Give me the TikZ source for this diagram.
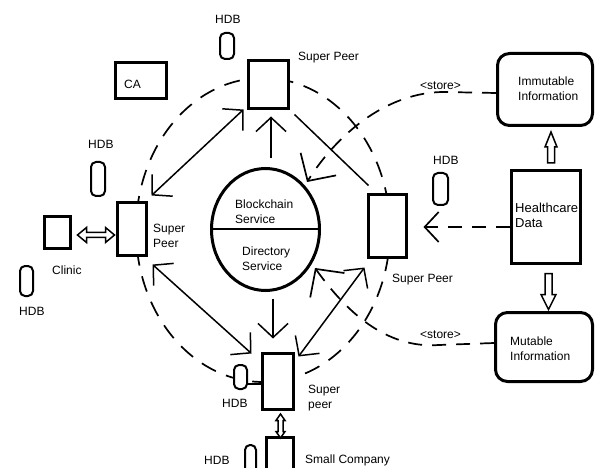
\documentclass[tikz,border=0pt]{standalone}
\usepackage{fontspec}
\setmainfont{Liberation Sans}
\usetikzlibrary{arrows.meta,calc,shapes.geometric}
\tikzset{
  peer/.style={draw, line width=3pt, fill=white, inner sep=0pt},
  hdbbox/.style={draw, line width=2pt, fill=white, rounded corners=5pt, inner sep=0pt},
  infobox/.style={draw, line width=3pt, fill=white, rounded corners=12pt, inner sep=0pt},
  lbl/.style={anchor=west, inner sep=0pt, align=left, font=\fontsize{12}{15}\selectfont},
  link/.style={line width=1.5pt},
  dlink/.style={line width=1.7pt, dash pattern=on 14pt off 10pt},
  tipa/.tip={Straight Barb[length=14pt,width=30pt]},
  tipb/.tip={Straight Barb[length=20pt,width=42pt]},
  hollow/.style={draw, line width=1.5pt, fill=white, line join=miter}
}
\begin{document}
\begin{tikzpicture}[x=1pt,y=-1pt]
\useasboundingbox (0,0) rectangle (595,468);
% big dashed ring
\node[ellipse, draw, line width=1.7pt, dash pattern=on 16pt off 11pt, minimum width=254, minimum height=304, inner sep=0pt] (ring) at (263,230) {};

% central service ellipse
\node[ellipse, draw, line width=3pt, minimum width=108, minimum height=122, inner sep=0pt] (bc) at (265.5,229.5) {};
\draw[line width=2pt] (bc.west) -- (bc.east);

% peers and boxes
\node[peer, minimum width=40, minimum height=48] (tsp) at (268.5,84.5) {};
\node[peer, minimum width=29, minimum height=53] (lsp) at (132,229) {};
\node[peer, minimum width=38, minimum height=63] (rsp) at (387.5,226) {};
\node[peer, minimum width=31, minimum height=56] (bsp) at (278,381.5) {};
\node[peer, minimum width=26, minimum height=32] (clinic) at (57.5,232.5) {};
\node[peer, minimum width=27, minimum height=37] (sc) at (280,456) {};
\node[peer, minimum width=51, minimum height=36] (ca) at (141,80.5) {};
\node[peer, minimum width=69, minimum height=93] (hd) at (546,217) {};
\node[infobox, minimum width=95, minimum height=72] (imm) at (545,89.5) {};
\node[infobox, minimum width=97, minimum height=69] (mut) at (544,347) {};

% HDB stores
\node[hdbbox, minimum width=14, minimum height=26] (hdbt) at (227,46) {};
\node[hdbbox, minimum width=14, minimum height=34] (hdbl) at (98,179) {};
\node[hdbbox, minimum width=13, minimum height=30] (hdbc) at (26.5,281) {};
\node[hdbbox, minimum width=15, minimum height=32] (hdbr) at (440.5,189) {};
\node[hdbbox, minimum width=13, minimum height=24] (hdba) at (240.5,377) {};
\node[hdbbox, minimum width=11, minimum height=32] (hdbs) at (250.5,461) {};
\draw[link] ($(hdba.east)+(0,7)$) -- ($(bsp.west)+(0,2.5)$);

% solid connectors
\draw[link, tipa-tipa] ($(lsp.north east)+(3.5,-5.5)$) -- ($(tsp.south west)+(-3.5,-0.5)$);
\draw[link, -tipa] ($(bc.north)+(5.5,-8.5)$) -- ($(tsp.south)+(2.5,6.5)$);
\draw[link] ($(tsp.south east)+(4.5,4.5)$) -- ($(rsp.north west)+(1.5,-7.5)$);
\draw[link, tipa-tipa] ($(lsp.south east)+(4.5,7.5)$) -- ($(bsp.north west)+(-9.5,1.5)$);
\draw[link, -tipa] ($(bc.south)+(7.5,6.5)$) -- ($(bsp.north)+(-5,-13.5)$);
\draw[link, tipa-tipa] ($(bsp.north east)+(3.5,4.5)$) -- ($(rsp.south west)+(-2.5,8.5)$);

% dashed connectors
\draw[dlink, -tipa] ($(hd.west)+(0,10)$) -- ($(rsp.east)+(15.5,1)$);
\draw[dlink, -tipb] ($(imm.west)+(0,3.5)$) -- ++(-52,-1) .. controls (390,92) and (340,130) .. ($(bc.center)+(41.5,-47.5)$);
\draw[dlink, -tipb] ($(mut.west)+(0,-4)$) -- ++(-55,2) .. controls (385,349) and (345,310) .. ($(bc.center)+(49.5,38.5)$);

% hollow arrows
\draw[hollow] ($(hd.north)+(1.5,-6)$) -- ++(0,-16) -- ++(-2.5,0) -- ++(6,-15) -- ++(6,15) -- ++(-2.5,0) -- ++(0,16) -- cycle;
\draw[hollow] ($(hd.south)+(-1,8.5)$) -- ++(0,21) -- ++(-4,0) -- ++(7.5,15) -- ++(7.5,-15) -- ++(-4,0) -- ++(0,-21) -- cycle;
\draw[hollow] ($(clinic.east)+(5.5,2.5)$) -- ++(9,-7.5) -- ++(0,5) -- ++(19,0) -- ++(0,-5) -- ++(9,7.5) -- ++(-9,7.5) -- ++(0,-5) -- ++(-19,0) -- ++(0,5) -- cycle;
\draw[hollow] ($(bsp.south)+(2.5,3)$) -- ++(4.5,6.5) -- ++(-2,0) -- ++(0,11) -- ++(2,0) -- ++(-4.5,6.5) -- ++(-4.5,-6.5) -- ++(2,0) -- ++(0,-11) -- ++(-2,0) -- cycle;

% labels
\node[lbl] (t1) at (215,19) {HDB};
\node[lbl] (t2) at (124,84) {CA};
\node[lbl] (t3) at (298,58) {Super Peer};
\node[lbl] (t4) at (88,144) {HDB};
\node[lbl] (t5) at (153,236) {Super\\Peer};
\node[lbl] (t6) at (52,270) {Clinic};
\node[lbl] (t7) at (19,311) {HDB};
\node[lbl] (t8) at (235,211.5) {Blockchain\\Service};
\node[lbl] (t9) at (242,259) {Directory\\Service};
\node[lbl] (t10) at (420,86) {<store>};
\node[lbl] (t11) at (518,89) {Immutable\\Information};
\node[lbl] (t12) at (510,348.5) {Mutable\\Information};
\node[lbl] (t13) at (420,335) {<store>};
\node[lbl] (t14) at (392,280) {Super Peer};
\node[lbl] (t15) at (433,160) {HDB};
\node[lbl, font=\fontsize{13}{15}\selectfont] (t16) at (515,215.5) {Healthcare\\Data};
\node[lbl] (t17) at (308,398.5) {Super\\peer};
\node[lbl] (t18) at (222,403) {HDB};
\node[lbl] (t19) at (204,460) {HDB};
\node[lbl] (t20) at (305,460) {Small Company};
\end{tikzpicture}
\end{document}
